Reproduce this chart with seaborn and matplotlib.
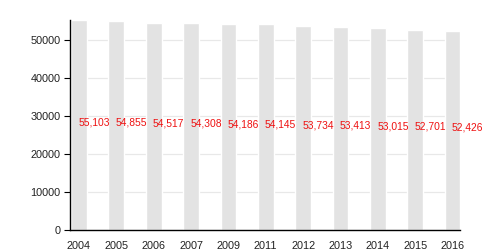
import matplotlib
matplotlib.use("Agg")
import matplotlib.pyplot as plt
import seaborn as sns
import pandas as pd

years = ["2004", "2005", "2006", "2007", "2009", "2011", "2012", "2013", "2014", "2015", "2016"]
population = [55103, 54855, 54517, 54308, 54186, 54145, 53734, 53413, 53015, 52701, 52426]
yticks = [0, 10000, 20000, 30000, 40000, 50000]

sns.set_theme(style="white")
plt.rcParams["font.family"] = ["Liberation Sans", "DejaVu Sans"]

df = pd.DataFrame({"year": years, "pop": population})

fig = plt.figure(figsize=(5, 2.5), dpi=100)
ax = fig.add_axes([0.14, 0.08, 0.78, 0.84])
ax.set_axisbelow(True)
ax.yaxis.grid(True, color="#e8e8e8", linewidth=0.9)

sns.barplot(data=df, x="year", y="pop", color="#e3e3e3", saturation=1,
            width=0.42, ax=ax, order=years)

for i, (y, v) in enumerate(zip(years, population)):
    ax.annotate(f"{v:,}", xy=(i - 0.02, v / 2), xytext=(0, 2),
                textcoords="offset points", color="#ee1111", fontsize=7.4,
                ha="left", va="center")

ax.set_xlim(-0.24, 10.2)
ax.set_ylim(0, 55200)
ax.set_yticks(yticks)
ax.set_yticklabels([str(t) for t in yticks])
ax.set_xlabel("")
ax.set_ylabel("")
for s in ["top", "right"]:
    ax.spines[s].set_visible(False)
for s in ["left", "bottom"]:
    ax.spines[s].set_color("black")
    ax.spines[s].set_linewidth(1.0)
ax.tick_params(axis="y", left=True, length=4, width=0.8, color="black",
               labelsize=7.8, pad=3, labelcolor="#222222")
ax.tick_params(axis="x", bottom=False, labelsize=7.8, pad=2, labelcolor="#222222")

fig.savefig("out.png", dpi=100)
